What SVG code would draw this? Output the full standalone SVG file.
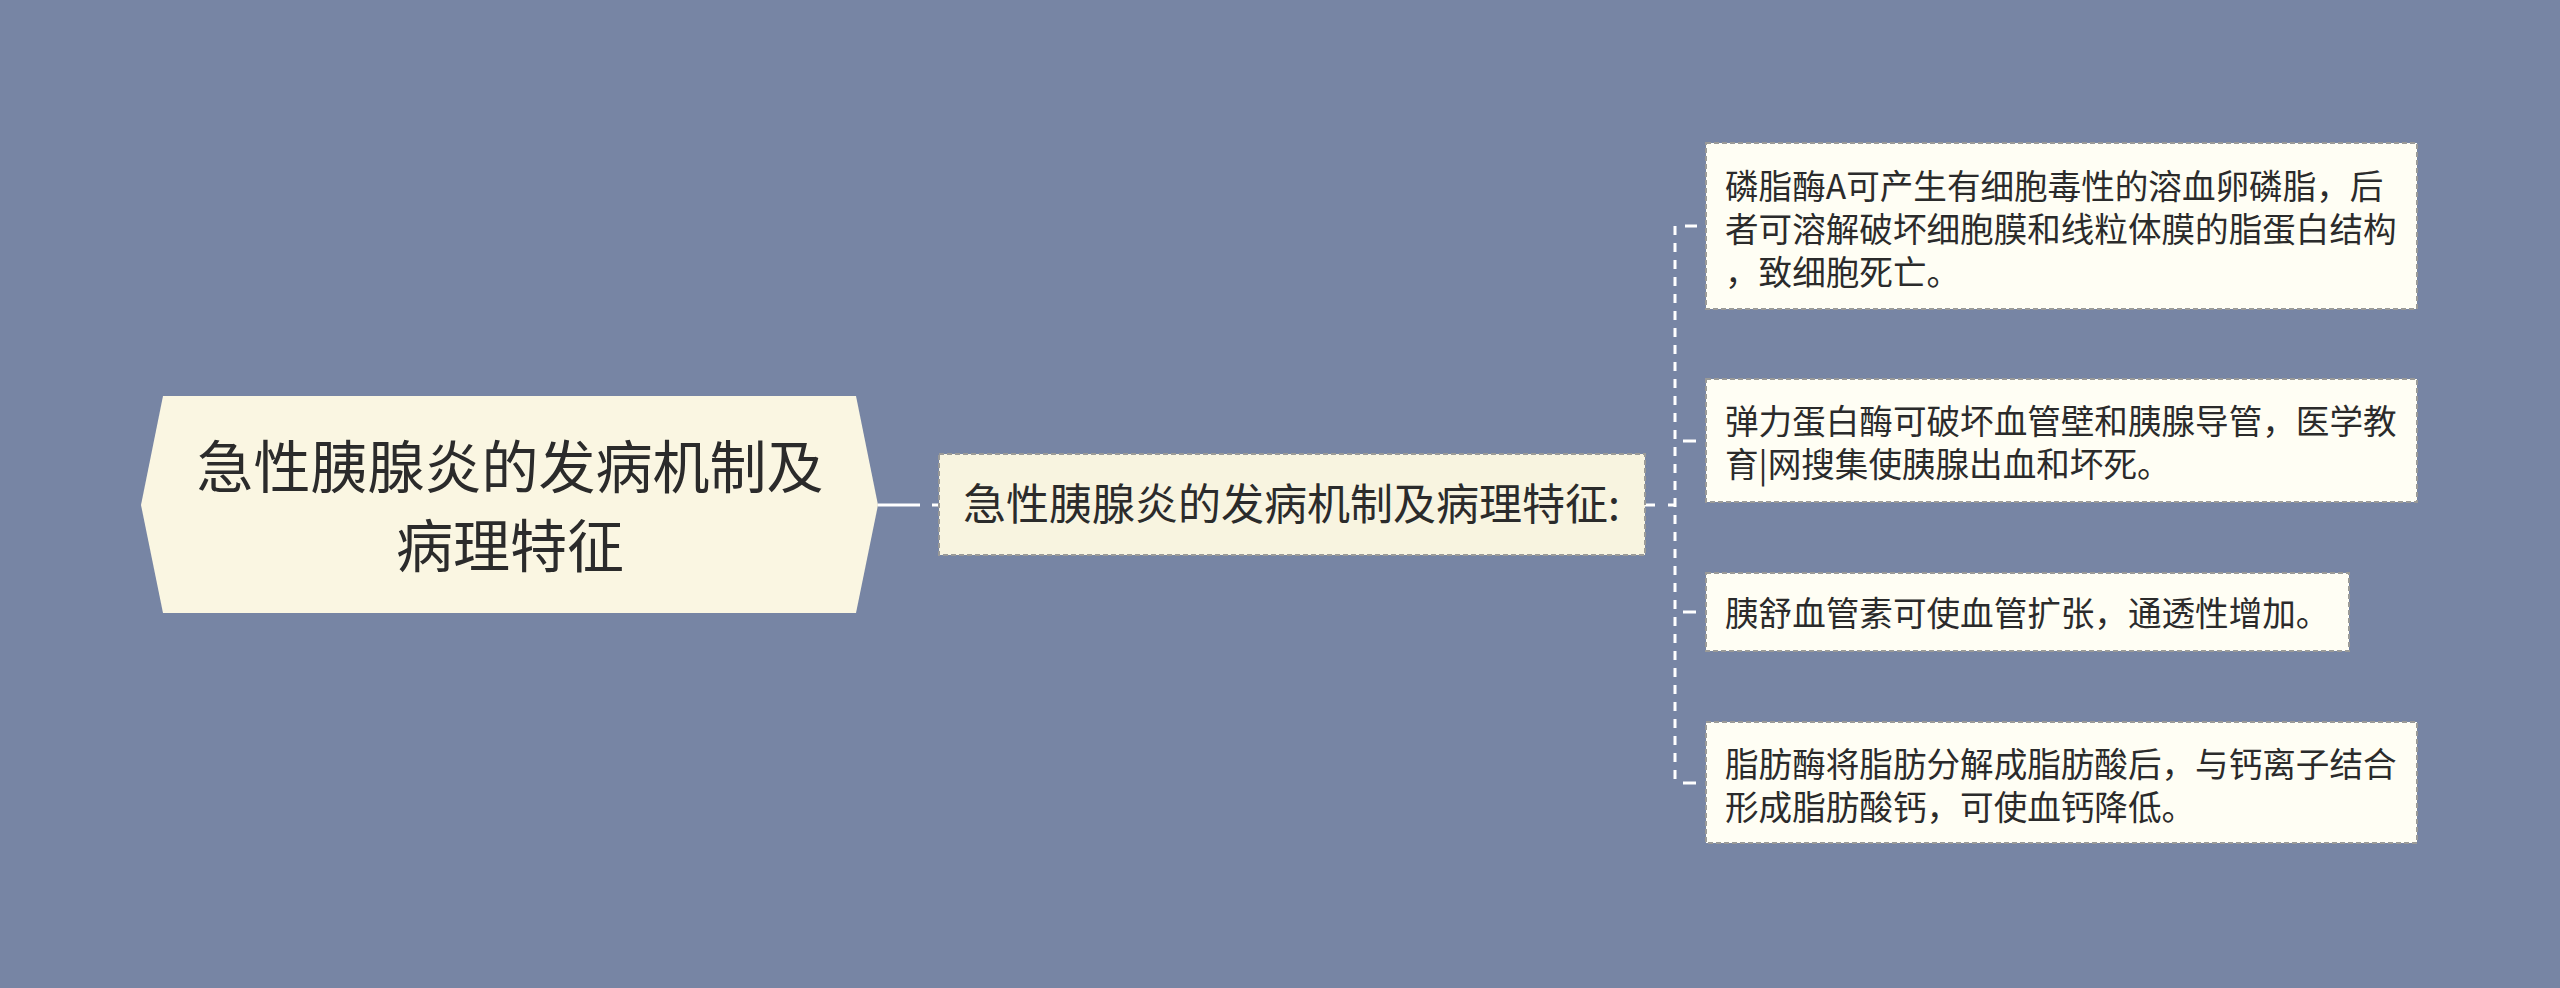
<svg xmlns="http://www.w3.org/2000/svg" width="2560" height="988" viewBox="0 0 2560 988">
<style>
.t{font-family:"Noto Sans CJK SC","Noto Sans",sans-serif;fill:#2b2b2b}
.leaf{fill:#fffef4;stroke:#9a9a98;stroke-width:2;stroke-dasharray:5 3}
.main{fill:#f8f4e0;stroke:#9a9a98;stroke-width:2;stroke-dasharray:5 3}
.c{stroke:#ffffff;stroke-width:3;fill:none}
</style>
<rect x="0" y="0" width="2560" height="988" fill="#7785a4"/>
<g id="connectors">
<line class="c" x1="878" y1="505" x2="939" y2="505" stroke-dasharray="42 12 20"/>
<line class="c" x1="1645" y1="505" x2="1675" y2="505" stroke-dasharray="10 13 10"/>
<line class="c" x1="1675" y1="226" x2="1675" y2="783" stroke-dasharray="9 8"/>
<line class="c" x1="1675" y1="226" x2="1706" y2="226" stroke-dasharray="0 10 12 100"/>
<line class="c" x1="1675" y1="441" x2="1706" y2="441" stroke-dasharray="0 8 13 100"/>
<line class="c" x1="1675" y1="612" x2="1706" y2="612" stroke-dasharray="0 8 13 100"/>
<line class="c" x1="1675" y1="783" x2="1706" y2="783" stroke-dasharray="0 8 13 100"/>
</g>
<g id="root">
<polygon points="141,505 163,396 856,396 878,505 856,613 163,613" fill="#faf6e2"/>
<text class="t" x="510" y="488" font-size="57" text-anchor="middle">急性胰腺炎的发病机制及</text>
<text class="t" x="510" y="567" font-size="57" text-anchor="middle">病理特征</text>
</g>
<g id="main">
<rect class="main" x="939" y="454" width="706" height="101"/>
<text class="t" x="963" y="520" font-size="43">急性胰腺炎的发病机制及病理特征:</text>
</g>
<g id="leaf1">
<rect class="leaf" x="1706" y="143" width="711" height="166"/>
<text class="t" x="1725" y="199" font-size="33.6">磷脂酶A可产生有细胞毒性的溶血卵磷脂，后</text>
<text class="t" x="1725" y="242" font-size="33.6">者可溶解破坏细胞膜和线粒体膜的脂蛋白结构</text>
<text class="t" x="1725" y="285" font-size="33.6">，致细胞死亡。</text>
</g>
<g id="leaf2">
<rect class="leaf" x="1706" y="379" width="711" height="123"/>
<text class="t" x="1725" y="434" font-size="33.6">弹力蛋白酶可破坏血管壁和胰腺导管，医学教</text>
<text class="t" x="1725" y="477" font-size="33.6">育|网搜集使胰腺出血和坏死。</text>
</g>
<g id="leaf3">
<rect class="leaf" x="1706" y="573" width="643" height="78"/>
<text class="t" x="1725" y="626" font-size="33.6">胰舒血管素可使血管扩张，通透性增加。</text>
</g>
<g id="leaf4">
<rect class="leaf" x="1706" y="722" width="711" height="121"/>
<text class="t" x="1725" y="777" font-size="33.6">脂肪酶将脂肪分解成脂肪酸后，与钙离子结合</text>
<text class="t" x="1725" y="820" font-size="33.6">形成脂肪酸钙，可使血钙降低。</text>
</g>
</svg>
